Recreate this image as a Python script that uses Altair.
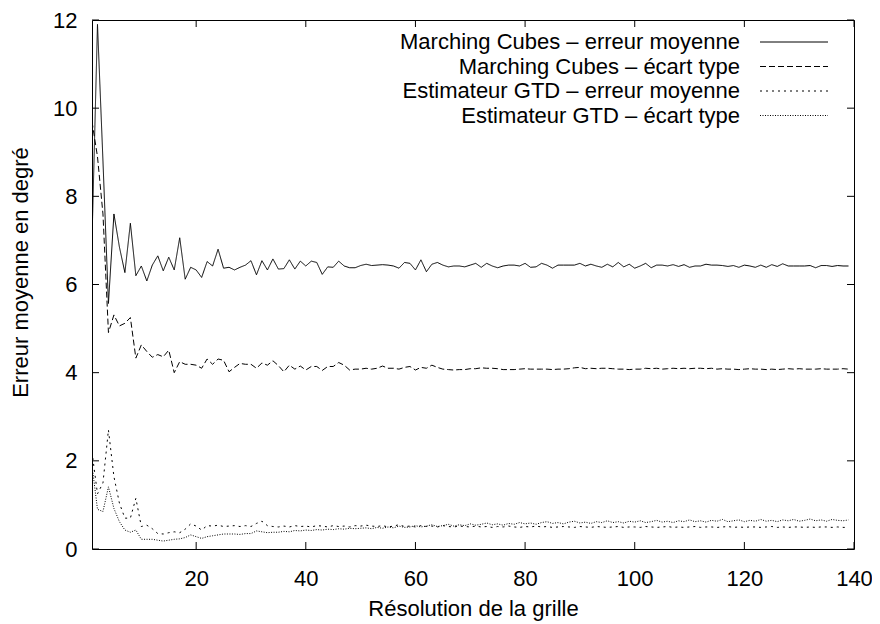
import altair as alt
import pandas as pd

x_vals = list(range(1, 140))

series_names = [
    "Marching Cubes – erreur moyenne",
    "Marching Cubes – écart type",
    "Estimateur GTD – erreur moyenne",
    "Estimateur GTD – écart type",
]

mc_mean = [
    7.0, 11.9, 8.8, 5.57, 7.6, 6.85, 6.27, 7.39, 6.2, 6.42,
    6.08, 6.44, 6.65, 6.31, 6.62, 6.33, 7.06, 6.12, 6.39, 6.33,
    6.16, 6.52, 6.42, 6.8, 6.37, 6.39, 6.33, 6.39, 6.44, 6.54,
    6.22, 6.54, 6.33, 6.58, 6.35, 6.36, 6.56, 6.35, 6.53, 6.42,
    6.53, 6.5, 6.23, 6.4, 6.39, 6.53, 6.42, 6.38, 6.38, 6.43,
    6.46, 6.43, 6.44, 6.45, 6.44, 6.42, 6.37, 6.5, 6.48, 6.33,
    6.56, 6.29, 6.46, 6.5, 6.44, 6.4, 6.42, 6.42, 6.4, 6.44,
    6.48, 6.39, 6.48, 6.42, 6.38, 6.42, 6.44, 6.44, 6.42, 6.48,
    6.39, 6.4, 6.48, 6.44, 6.37, 6.44, 6.44, 6.44, 6.44, 6.48,
    6.42, 6.46, 6.42, 6.39, 6.46, 6.4, 6.5, 6.4, 6.46, 6.37,
    6.42, 6.48, 6.38, 6.44, 6.44, 6.42, 6.45, 6.41, 6.45, 6.39,
    6.42, 6.42, 6.46, 6.44, 6.44, 6.43, 6.41, 6.43, 6.39, 6.44,
    6.42, 6.39, 6.44, 6.39, 6.45, 6.41, 6.47, 6.42, 6.42, 6.42,
    6.42, 6.43, 6.38, 6.43, 6.43, 6.41, 6.43, 6.42, 6.42,
]

mc_std = [
    9.7, 8.9, 7.6, 4.91, 5.31, 5.06, 5.12, 5.25, 4.33, 4.63,
    4.48, 4.35, 4.41, 4.36, 4.51, 4.0, 4.25, 4.19, 4.19, 4.17,
    4.1, 4.31, 4.19, 4.31, 4.28, 4.02, 4.12, 4.21, 4.19, 4.19,
    4.1, 4.22, 4.17, 4.27, 4.16, 4.02, 4.17, 4.08, 4.15, 4.06,
    4.14, 4.14, 4.05, 4.14, 4.14, 4.23, 4.17, 4.06, 4.08, 4.08,
    4.1, 4.08, 4.1, 4.15, 4.1, 4.1, 4.08, 4.12, 4.14, 4.06,
    4.12, 4.1, 4.17, 4.12, 4.08, 4.07, 4.06, 4.07, 4.07, 4.09,
    4.09, 4.11, 4.1, 4.1, 4.09, 4.07, 4.07, 4.07, 4.08, 4.09,
    4.08, 4.08, 4.08, 4.08, 4.07, 4.08, 4.08, 4.09, 4.11, 4.12,
    4.09, 4.1, 4.09, 4.1, 4.1, 4.09, 4.08, 4.08, 4.07, 4.08,
    4.08, 4.1, 4.09, 4.1, 4.08, 4.09, 4.1, 4.09, 4.1, 4.09,
    4.1, 4.1, 4.09, 4.1, 4.08, 4.09, 4.08, 4.08, 4.07, 4.08,
    4.09, 4.08, 4.08, 4.07, 4.08, 4.07, 4.08, 4.09, 4.08, 4.09,
    4.08, 4.08, 4.08, 4.09, 4.08, 4.08, 4.08, 4.09, 4.08,
]

gtd_mean = [
    2.2, 1.25, 1.5, 2.7, 1.64, 1.04, 0.7, 0.7, 1.15, 0.51,
    0.54, 0.46, 0.35, 0.34, 0.37, 0.39, 0.37, 0.45, 0.57, 0.52,
    0.43, 0.53, 0.52, 0.54, 0.51, 0.52, 0.53, 0.51, 0.53, 0.51,
    0.58, 0.63, 0.53, 0.51, 0.5, 0.52, 0.5, 0.53, 0.51, 0.52,
    0.5, 0.53, 0.52, 0.5, 0.53, 0.51, 0.52, 0.5, 0.53, 0.52,
    0.54, 0.52, 0.51, 0.53, 0.5, 0.52, 0.55, 0.51, 0.52, 0.5,
    0.53, 0.51, 0.52, 0.5, 0.53, 0.51, 0.5, 0.52, 0.51, 0.5,
    0.52, 0.5, 0.51, 0.49, 0.51, 0.5, 0.52, 0.5, 0.49, 0.51,
    0.5, 0.52, 0.5, 0.51, 0.49, 0.5, 0.51, 0.5, 0.49, 0.51,
    0.5, 0.49, 0.51, 0.5, 0.49, 0.5, 0.51, 0.49, 0.5, 0.5,
    0.49, 0.51, 0.5, 0.49, 0.5, 0.51, 0.49, 0.5, 0.49, 0.5,
    0.51, 0.49, 0.5, 0.5, 0.49, 0.5, 0.51, 0.49, 0.5, 0.49,
    0.5, 0.5, 0.49, 0.5, 0.51, 0.49, 0.5, 0.49, 0.5, 0.5,
    0.49, 0.5, 0.49, 0.5, 0.5, 0.49, 0.5, 0.49, 0.49,
]

gtd_std = [
    1.9, 0.9, 0.85, 1.41, 0.92, 0.62, 0.43, 0.38, 0.43, 0.22,
    0.22, 0.22, 0.2, 0.18, 0.2, 0.22, 0.23, 0.26, 0.32, 0.28,
    0.24, 0.28, 0.3, 0.32, 0.34, 0.34, 0.34, 0.33, 0.35, 0.35,
    0.41, 0.39, 0.37, 0.38, 0.38, 0.4, 0.39, 0.42, 0.41, 0.43,
    0.42, 0.44, 0.43, 0.45, 0.44, 0.46, 0.45, 0.47, 0.46, 0.47,
    0.48, 0.46, 0.49, 0.47, 0.5, 0.48, 0.52, 0.49, 0.5, 0.53,
    0.5, 0.52, 0.55, 0.51, 0.53, 0.56, 0.52, 0.55, 0.53, 0.57,
    0.54, 0.56, 0.59, 0.55, 0.57, 0.54, 0.58, 0.56, 0.6, 0.57,
    0.59, 0.56, 0.6, 0.62, 0.58, 0.6, 0.57, 0.61, 0.63, 0.59,
    0.61, 0.58, 0.62, 0.6, 0.64, 0.6, 0.62, 0.59, 0.63, 0.61,
    0.64, 0.6, 0.62, 0.65, 0.61, 0.63, 0.6, 0.64, 0.62, 0.66,
    0.62, 0.64, 0.61, 0.65, 0.63, 0.67, 0.62, 0.64, 0.66, 0.62,
    0.65, 0.63, 0.67, 0.63, 0.65, 0.62, 0.66, 0.64, 0.67, 0.63,
    0.65, 0.68, 0.64, 0.66, 0.63, 0.67, 0.65, 0.64, 0.66,
]

x_ticks = [20, 40, 60, 80, 100, 120, 140]
y_ticks = [0, 2, 4, 6, 8, 10, 12]

# ---- layout / style ----
W, H = 762, 529
FONT = "Liberation Sans"
FS = 22
TICK = 7
dash_patterns = [[1, 0], [6, 3], [2, 4], [1, 1.5]]

rows = []
for name, vals in zip(series_names, [mc_mean, mc_std, gtd_mean, gtd_std]):
    for xv, yv in zip(x_vals, vals):
        rows.append({"x": xv, "value": yv, "series": name})
df = pd.DataFrame(rows)

xscale = alt.Scale(domain=[1, 140], nice=False, zero=False)
yscale = alt.Scale(domain=[0, 12], nice=False, zero=True)

lines = alt.Chart(df).mark_line(color="black", strokeWidth=1, clip=True).encode(
    x=alt.X("x:Q", scale=xscale, axis=alt.Axis(
        values=x_ticks, ticks=False, tickSize=0, domain=False, grid=False,
        labelFlush=False, labelOverlap=False,
        labelFont=FONT, labelFontSize=FS, labelColor="black", labelPadding=19,
        title="Résolution de la grille", titleFont=FONT, titleFontSize=FS,
        titleFontWeight="normal", titleColor="black", titleBaseline="alphabetic",
        titleY=66)),
    y=alt.Y("value:Q", scale=yscale, axis=alt.Axis(
        values=y_ticks, ticks=False, tickSize=0, domain=False, grid=False,
        labelFlush=False, labelOverlap=False,
        labelFont=FONT, labelFontSize=FS, labelColor="black", labelPadding=15,
        title="Erreur moyenne en degré", titleFont=FONT, titleFontSize=FS,
        titleFontWeight="normal", titleColor="black", titleBaseline="alphabetic",
        titleX=-65, titleY=252)),
    strokeDash=alt.StrokeDash("series:N", scale=alt.Scale(domain=series_names, range=dash_patterns), legend=None),
    detail="series:N",
)

xt = pd.DataFrame({"v": x_ticks})
yt = pd.DataFrame({"v": y_ticks})
tick_bottom = alt.Chart(xt).mark_rule(color="black", strokeWidth=1).encode(
    x=alt.X("v:Q", scale=xscale), y=alt.value(H), y2=alt.value(H - TICK))
tick_top = alt.Chart(xt).mark_rule(color="black", strokeWidth=1).encode(
    x=alt.X("v:Q", scale=xscale), y=alt.value(0), y2=alt.value(TICK))
tick_left = alt.Chart(yt).mark_rule(color="black", strokeWidth=1).encode(
    y=alt.Y("v:Q", scale=yscale), x=alt.value(0), x2=alt.value(TICK))
tick_right = alt.Chart(yt).mark_rule(color="black", strokeWidth=1).encode(
    y=alt.Y("v:Q", scale=yscale), x=alt.value(W - TICK), x2=alt.value(W))

legend_layers = []
for i, name in enumerate(series_names):
    ly = 22 + 24.5 * i
    ldf = pd.DataFrame({"series": [name]})
    legend_layers.append(
        alt.Chart(ldf).mark_text(align="right", baseline="middle", font=FONT,
                                 fontSize=FS, color="black").encode(
            text="series:N", x=alt.value(648), y=alt.value(ly)))
    legend_layers.append(
        alt.Chart(ldf).mark_rule(color="black", strokeWidth=1,
                                 strokeDash=dash_patterns[i]).encode(
            x=alt.value(668), x2=alt.value(736), y=alt.value(ly)))

chart = alt.layer(lines, tick_bottom, tick_top, tick_left, tick_right, *legend_layers).properties(
    width=W, height=H,
    autosize=alt.AutoSizeParams(type="none"),
    padding={"left": 84, "top": 12, "right": 18, "bottom": 76},
    background="white",
).configure_view(stroke="black", strokeWidth=1)

chart.save("out.html", embed_options={"renderer": "svg", "actions": False})
